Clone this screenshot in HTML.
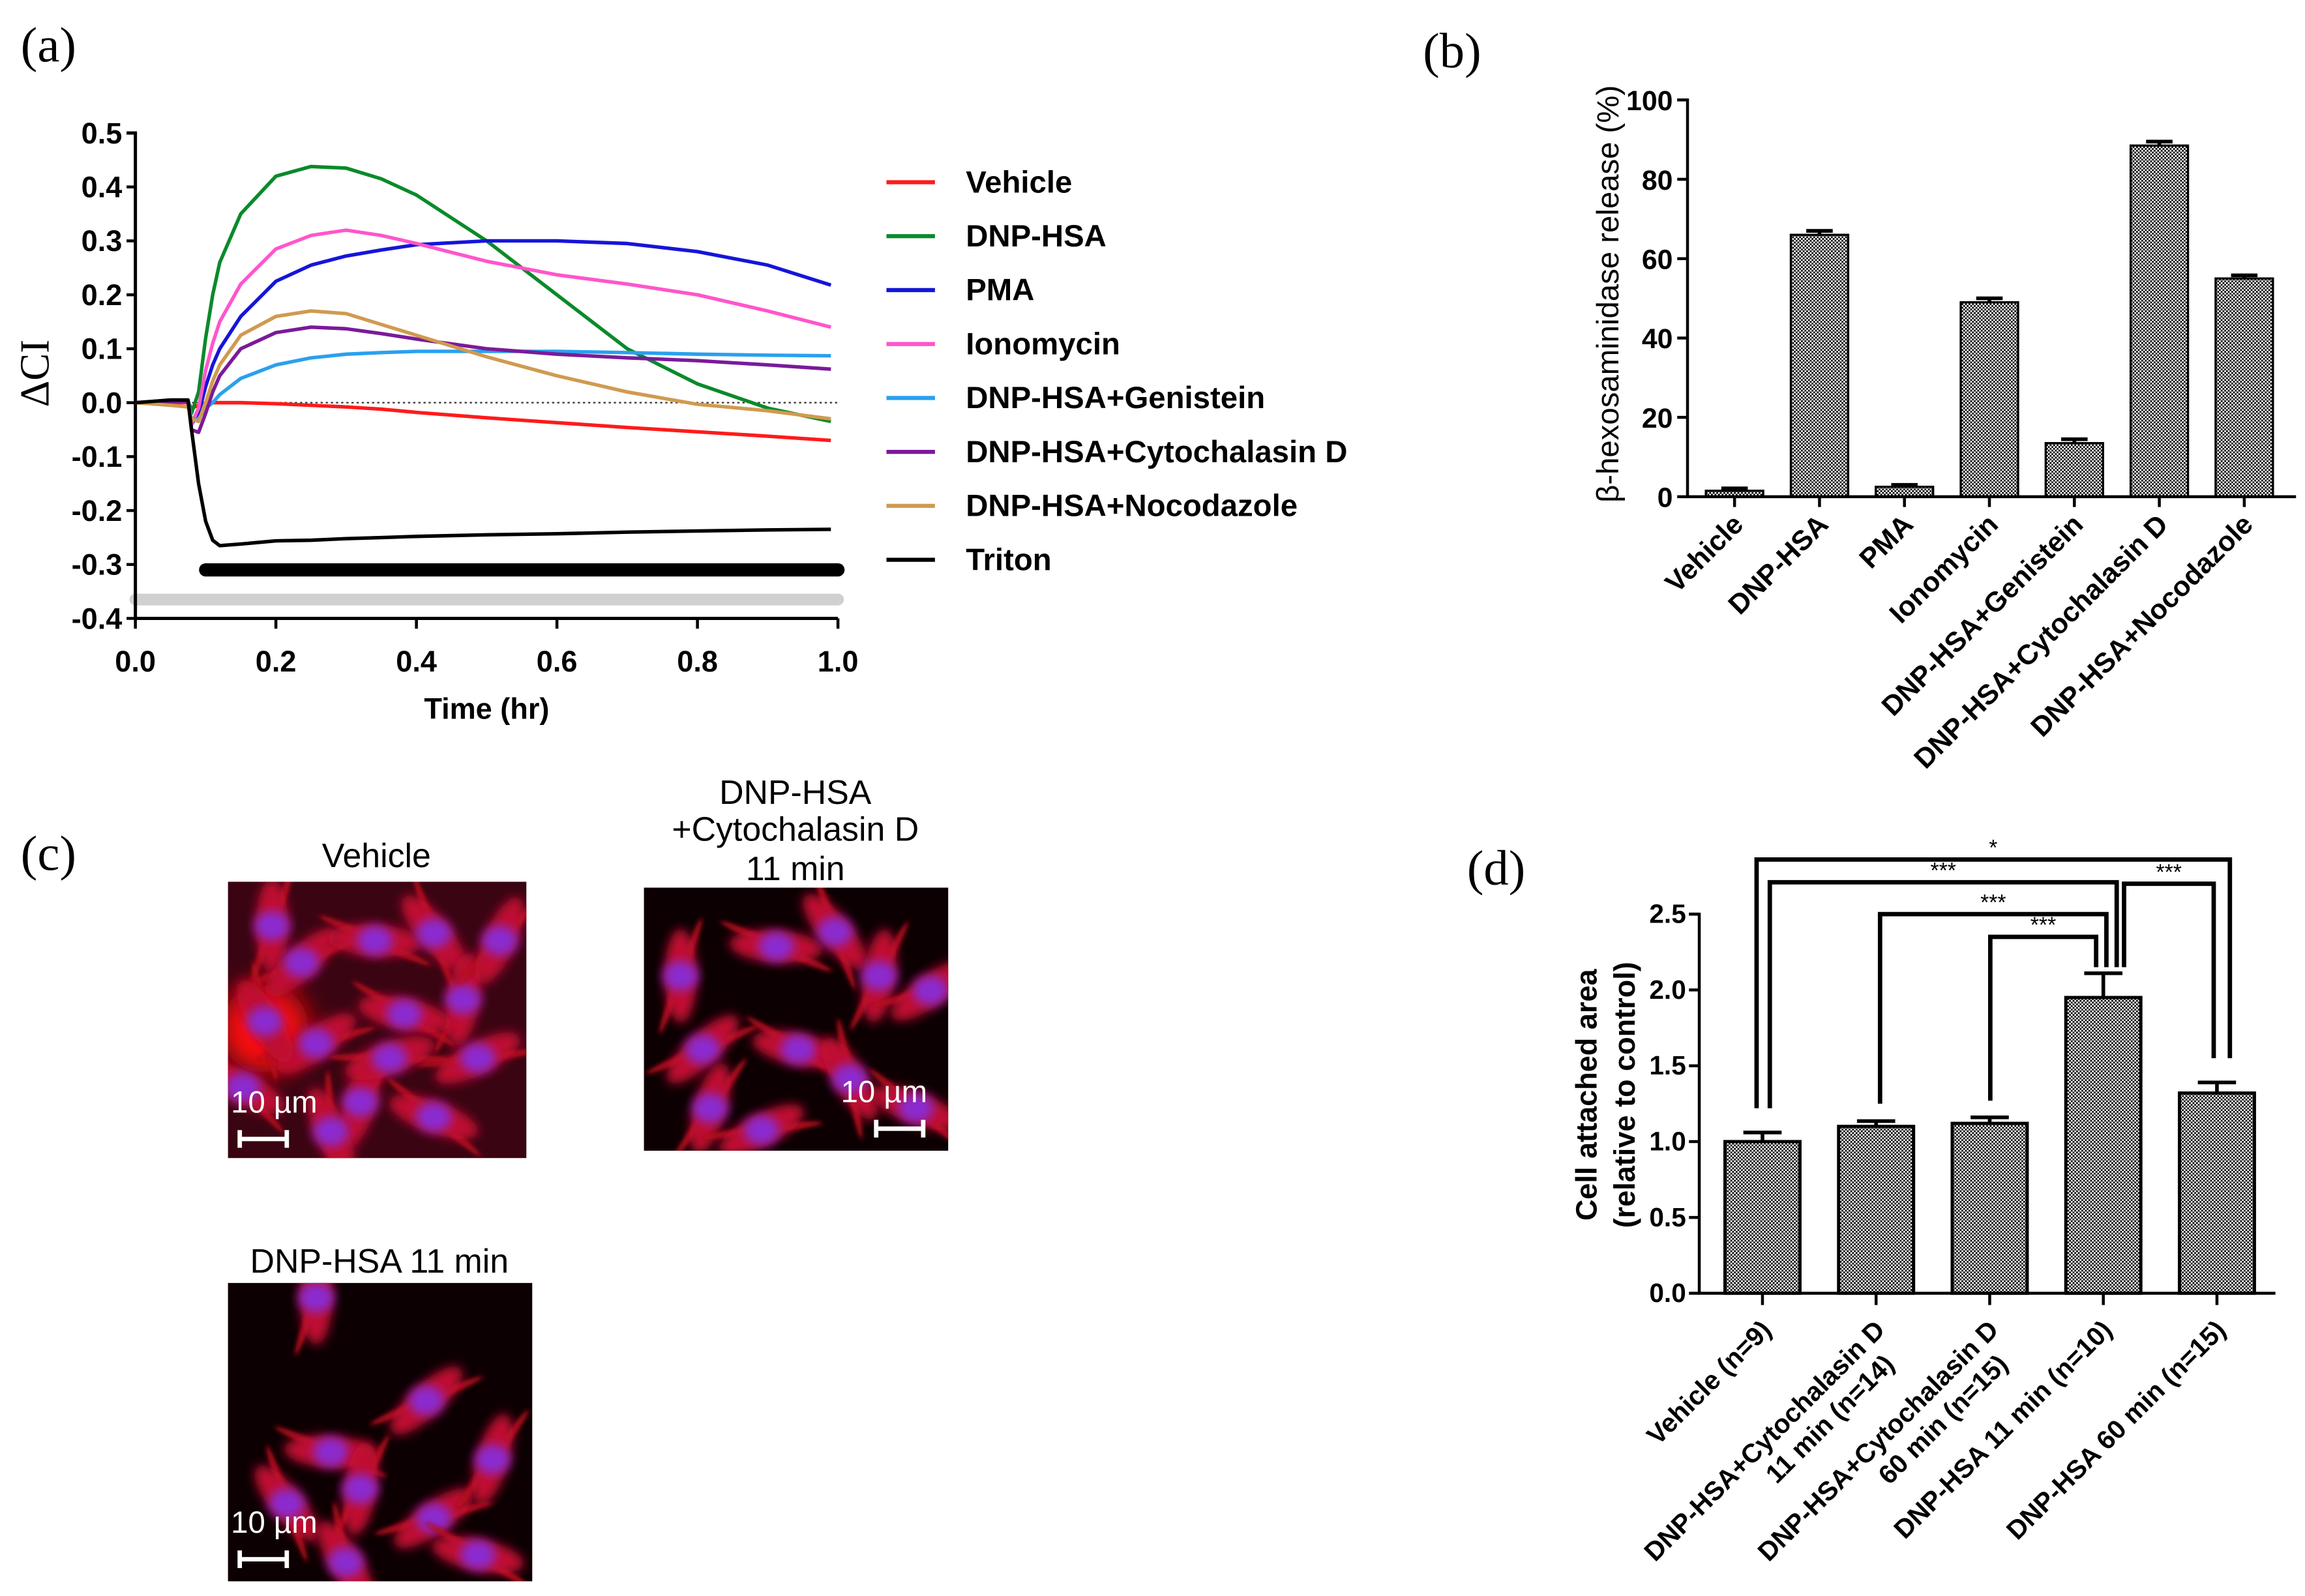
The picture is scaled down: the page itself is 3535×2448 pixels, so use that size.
<!DOCTYPE html>
<html><head><meta charset="utf-8"><style>
html,body{margin:0;padding:0;background:#fff;}
svg{display:block;}
text{font-family:"Liberation Sans",Arial,sans-serif;}
text.serif{font-family:"Liberation Serif","DejaVu Serif",serif;}
</style></head><body>
<svg id="fig" width="3535" height="2448" viewBox="0 0 1568 1086" xmlns="http://www.w3.org/2000/svg">
<defs>
<pattern id="chk" patternUnits="userSpaceOnUse" width="2.4" height="2.4">
<rect width="2.4" height="2.4" fill="#fff"/><rect width="1.2" height="1.2" fill="#000"/><rect x="1.2" y="1.2" width="1.2" height="1.2" fill="#000"/>
</pattern>
<filter id="blur2" x="-30%" y="-30%" width="160%" height="160%"><feGaussianBlur stdDeviation="3.5"/></filter>
<filter id="blur1" x="-30%" y="-30%" width="160%" height="160%"><feGaussianBlur stdDeviation="1.5"/></filter>
<filter id="blur6" x="-50%" y="-50%" width="200%" height="200%"><feGaussianBlur stdDeviation="9"/></filter>
</defs>
<g id="pa"></g>
<g id="pb"></g>
<g id="pc"></g>
<g id="pd"></g>
</svg>
<script>
// ---------- Panel (a) data ----------
const aTimes = [0,0.05,0.075,0.08,0.09,0.1,0.11,0.12,0.15,0.2,0.25,0.3,0.35,0.4,0.5,0.6,0.7,0.8,0.9,0.99];
const aVehicle = [0,0,0,-0.01,-0.005,0,0,0,0,-0.002,-0.005,-0.008,-0.012,-0.018,-0.028,-0.037,-0.046,-0.054,-0.062,-0.07];
const aDNP = [0,0.005,0.005,-0.02,0.02,0.12,0.2,0.26,0.35,0.42,0.438,0.435,0.415,0.385,0.3,0.2,0.1,0.035,-0.01,-0.035];
const aPMA = [0,0.003,0.005,-0.04,-0.02,0.03,0.07,0.1,0.16,0.225,0.255,0.272,0.283,0.293,0.3,0.3,0.295,0.28,0.255,0.218];
const aIono = [0,0.003,0.005,-0.04,-0.01,0.06,0.11,0.15,0.22,0.285,0.31,0.32,0.31,0.295,0.262,0.237,0.22,0.2,0.17,0.14];
const aGen = [0,0.002,0.003,-0.03,-0.03,-0.01,0,0.015,0.045,0.07,0.083,0.09,0.093,0.095,0.095,0.095,0.093,0.09,0.088,0.087];
const aCyto = [0,0.002,0.003,-0.05,-0.055,-0.02,0.02,0.05,0.1,0.13,0.14,0.137,0.128,0.118,0.1,0.09,0.083,0.078,0.07,0.062];
const aNoco = [0,-0.005,-0.008,-0.03,-0.035,0,0.04,0.07,0.125,0.16,0.17,0.165,0.145,0.125,0.085,0.05,0.02,-0.003,-0.015,-0.03];
const aTriton = [0,0.005,0.005,-0.05,-0.15,-0.22,-0.255,-0.265,-0.262,-0.256,-0.255,-0.252,-0.25,-0.248,-0.245,-0.243,-0.24,-0.238,-0.236,-0.235];
const aSeriesNames = ["Vehicle","DNP-HSA","PMA","Ionomycin","DNP-HSA+Genistein","DNP-HSA+Cytochalasin D","DNP-HSA+Nocodazole","Triton"];
const aYTicks = [0.5,0.4,0.3,0.2,0.1,0.0,-0.1,-0.2,-0.3,-0.4];
const aXTicks = [0,0.2,0.4,0.6,0.8,1.0];
// ---------- Panel (b) data ----------
const bCats = ["Vehicle","DNP-HSA","PMA","Ionomycin","DNP-HSA+Genistein","DNP-HSA+Cytochalasin D","DNP-HSA+Nocodazole"];
const bVals = [1.5,66,2.5,49,13.5,88.5,55];
const bErr = [0.6,1,0.5,1,1,1,0.8];
const bYTicks = [0,20,40,60,80,100];
// ---------- Panel (d) data ----------
const dCats = [["Vehicle (n=9)"],["DNP-HSA+Cytochalasin D","11 min   (n=14)"],["DNP-HSA+Cytochalasin D","60 min   (n=15)"],["DNP-HSA 11 min (n=10)"],["DNP-HSA 60 min (n=15)"]];
const dVals = [1.0,1.1,1.12,1.95,1.32];
const dErr = [0.06,0.035,0.04,0.16,0.07];
const dYTicks = [0,0.5,1.0,1.5,2.0,2.5];

const NS="http://www.w3.org/2000/svg";
function mk(parent,tag,attrs,txt){const e=document.createElementNS(NS,tag);for(const k in attrs)e.setAttribute(k,attrs[k]);if(txt!==undefined)e.textContent=txt;parent.appendChild(e);return e;}

// ===== Panel A =====
(function(){
const g=document.getElementById('pa');
const X0=92,X1=570,Y0=274,PER=36.7;
const sx=t=>X0+(X1-X0)*t, sy=v=>Y0-v*PER*10;
let e=mk(g,'text',{x:14,y:42,'font-size':34,'class':'serif'},'(a)');


e=mk(g,'line',{x1:sx(0.0),x2:sx(1.0),y1:sy(-0.365),y2:sy(-0.365),stroke:'#d0d0d0','stroke-width':8,'stroke-linecap':'round'});


e=mk(g,'line',{x1:sx(0.1),x2:sx(1.0),y1:sy(-0.31),y2:sy(-0.31),stroke:'#000','stroke-width':9,'stroke-linecap':'round'});


e=mk(g,'line',{x1:sx(0),x2:sx(1),y1:sy(0),y2:sy(0),stroke:'#333','stroke-width':1,'stroke-dasharray':'1.5,2'});


e=mk(g,'path',{d:`M${X0-6},${sy(0.5)}H${X0}V${sy(-0.4)}H${X1}`,fill:'none',stroke:'#000','stroke-width':2.2});


aYTicks.forEach(v=>{
 mk(g,'line',{x1:X0-6,x2:X0,y1:sy(v),y2:sy(v),stroke:'#000','stroke-width':2});
 e=mk(g,'text',{x:X0-9,y:sy(v)+7,'text-anchor':'end','font-size':20,'font-weight':'bold'},v.toFixed(1));
 
 
});
aXTicks.forEach(v=>{
 mk(g,'line',{x1:sx(v),x2:sx(v),y1:sy(-0.4),y2:sy(-0.4)+7,stroke:'#000','stroke-width':2});
 e=mk(g,'text',{x:sx(v),y:457,'text-anchor':'middle','font-size':20,'font-weight':'bold'},v.toFixed(1));
 
 
});
e=mk(g,'text',{x:331,y:489,'text-anchor':'middle','font-size':20,'font-weight':'bold'},'Time (hr)');


e=mk(g,'text',{x:0,y:0,transform:'translate(33,254) rotate(-90)','text-anchor':'middle','font-size':28,'class':'serif'},'ΔCI');


const series=[aVehicle,aDNP,aPMA,aIono,aGen,aCyto,aNoco,aTriton];
const cols=['#ff1a1a','#0a8a2a','#1515d8','#ff55cc','#2aa0ee','#7a1a9a','#d09a50','#000'];
series.forEach((s,i)=>{
 const pts=s.map((v,j)=>sx(aTimes[j]).toFixed(1)+','+sy(v).toFixed(1)).join(' ');
 const p=mk(g,'polyline',{points:pts,fill:'none',stroke:cols[i],'stroke-width':2.4,'stroke-linejoin':'round'});
 
 
 const ly=124+i*36.7;
 const l=mk(g,'line',{x1:603,x2:636,y1:ly,y2:ly,stroke:cols[i],'stroke-width':2.8});
 
 
 const t=mk(g,'text',{x:657,y:ly+7,'font-size':21,'font-weight':'bold'},aSeriesNames[i]);
 
 
});
})();

// ===== Panel B =====
(function(){
const g=document.getElementById('pb');
const X0=1148,X1=1562,Y0=338,Y100=68,C0=1180,SP=57.8,W=39;
const sy=v=>Y0-(Y0-Y100)*v/100;
let e=mk(g,'text',{x:968,y:46,'font-size':34,'class':'serif'},'(b)');


bCats.forEach((c,i)=>{
 const cx=C0+SP*i;
 const r=mk(g,'rect',{x:cx-W/2,y:sy(bVals[i]),width:W,height:Y0-sy(bVals[i]),fill:'url(#chk)',stroke:'#000','stroke-width':1.5});
 
 
 const top=sy(bVals[i]+bErr[i]);
 e=mk(g,'path',{d:`M${cx},${sy(bVals[i])}V${top}M${cx-9},${top}H${cx+9}`,stroke:'#000','stroke-width':2.5,fill:'none'});
 
 
 mk(g,'line',{x1:cx,x2:cx,y1:Y0,y2:Y0+7,stroke:'#000','stroke-width':2});
 e=mk(g,'text',{x:0,y:0,transform:`translate(${cx+7},${Y0+20}) rotate(-45)`,'text-anchor':'end','font-size':19,'font-weight':'bold'},c);
 
 
});
e=mk(g,'path',{d:`M${X0-7},${Y100}H${X0}V${Y0}H${X1}`,fill:'none',stroke:'#000','stroke-width':2});


bYTicks.forEach(v=>{
 mk(g,'line',{x1:X0-7,x2:X0,y1:sy(v),y2:sy(v),stroke:'#000','stroke-width':2});
 e=mk(g,'text',{x:X0-10,y:sy(v)+7,'text-anchor':'end','font-size':19,'font-weight':'bold'},String(v));
 
 
});
e=mk(g,'text',{x:0,y:0,transform:'translate(1101,200) rotate(-90)','text-anchor':'middle','font-size':21},'β-hexosaminidase release (%)');


})();

// ===== Panel C =====
(function(){
const g=document.getElementById('pc');
let e=mk(g,'text',{x:14,y:592,'font-size':34,'class':'serif'},'(c)');


const imgs=[
 {x:155,y:600,w:203,h:188,name:'vehicle-image',title:['Vehicle'],ty:[590],tx:256,scaleTxt:[157,757],bar:[163,775],bg:'#3a0412',
  cells:[[30,30],[50,55],[100,40],[140,35],[160,80],[60,110],[120,90],[25,95],[90,150],[170,120],[140,160],[70,170],[185,40],[110,120],[10,140]],glow:[[25,100]]},
 {x:438,y:604,w:207,h:179,name:'cytochalasin-image',title:['DNP-HSA','+Cytochalasin D','11 min'],ty:[547,572,599],tx:541,scaleTxt:[572,750],bar:[596,768],bg:'#0c0002',
  cells:[[25,60],[40,110],[90,40],[130,30],[160,60],[195,70],[105,110],[140,130],[45,150],[80,165],[185,150]],glow:[]},
 {x:155,y:873,w:207,h:203,name:'dnp-hsa-image',title:['DNP-HSA 11 min'],ty:[866],tx:258,scaleTxt:[157,1043],bar:[163,1061],bg:'#0c0002',
  cells:[[60,10],[135,80],[70,115],[40,150],[90,140],[140,160],[170,185],[80,190],[180,120]],glow:[]}
];
imgs.forEach(im=>{
 const gg=mk(g,'g',{});
 
 
 const cid='clip-'+im.name;
 const cp=mk(gg,'clipPath',{id:cid});mk(cp,'rect',{x:im.x,y:im.y,width:im.w,height:im.h});
 mk(gg,'rect',{x:im.x,y:im.y,width:im.w,height:im.h,fill:im.bg});
 const inner=mk(gg,'g',{'clip-path':`url(#${cid})`});
 im.glow.forEach(c=>mk(inner,'circle',{cx:im.x+c[0],cy:im.y+c[1],r:30,fill:'#ff1010',filter:'url(#blur6)'}));
 im.cells.forEach((c,k)=>{
  const ang=(k*47)%180-90;
  const cx=im.x+c[0],cy=im.y+c[1];
  mk(inner,'ellipse',{cx:cx,cy:cy,rx:42,ry:3,fill:'#b0101e',transform:`rotate(${ang+20} ${cx} ${cy})`,filter:'url(#blur1)'});
  mk(inner,'ellipse',{cx:cx,cy:cy,rx:32,ry:11,fill:'#c01030',transform:`rotate(${ang} ${cx} ${cy})`,filter:'url(#blur2)'});
  mk(inner,'ellipse',{cx:cx,cy:cy,rx:12,ry:10,fill:'#8a2ad0',filter:'url(#blur2)'});
 });
 im.title.forEach((t,k)=>{
  const tt=mk(g,'text',{x:im.tx,y:im.ty[k],'text-anchor':'middle','font-size':23},t);
  
  
 });
 const st=mk(gg,'text',{x:im.scaleTxt[0],y:im.scaleTxt[1],'font-size':21,fill:'#fff'},'10 µm');
 
 
 const b=im.bar;
 const sb=mk(gg,'path',{d:`M${b[0]},${b[1]-6}V${b[1]+6}M${b[0]},${b[1]}H${b[0]+32}M${b[0]+32},${b[1]-6}V${b[1]+6}`,stroke:'#fff','stroke-width':3,fill:'none'});
 
 
});
})();

// ===== Panel D =====
(function(){
const g=document.getElementById('pd');
const X0=1156,X1=1548,Y0=880,PERU=103.2,C0=1199,SP=77.3,W=51;
const sy=v=>Y0-v*PERU;
const sx=i=>C0+SP*i;
let e=mk(g,'text',{x:998,y:602,'font-size':34,'class':'serif'},'(d)');


dCats.forEach((c,i)=>{
 const cx=sx(i);
 const r=mk(g,'rect',{x:cx-W/2,y:sy(dVals[i]),width:W,height:Y0-sy(dVals[i]),fill:'url(#chk)',stroke:'#000','stroke-width':2.2});
 
 
 const top=sy(dVals[i]+dErr[i]);
 e=mk(g,'path',{d:`M${cx},${sy(dVals[i])}V${top}M${cx-13},${top}H${cx+13}`,stroke:'#000','stroke-width':2.5,fill:'none'});
 
 
 mk(g,'line',{x1:cx,x2:cx,y1:Y0,y2:Y0+8,stroke:'#000','stroke-width':2});
 c.forEach((ln,k)=>{
  const t=mk(g,'text',{x:k?-12:0,y:k*21,transform:`translate(${cx+7},${Y0+26}) rotate(-45)`,'text-anchor':'end','font-size':18,'font-weight':'bold'},ln);
  
  
 });
});
e=mk(g,'path',{d:`M${X0-7},${sy(2.5)}H${X0}V${Y0}H${X1}`,fill:'none',stroke:'#000','stroke-width':2});


dYTicks.forEach(v=>{
 mk(g,'line',{x1:X0-7,x2:X0,y1:sy(v),y2:sy(v),stroke:'#000','stroke-width':2});
 e=mk(g,'text',{x:X0-9,y:sy(v)+6,'text-anchor':'end','font-size':18,'font-weight':'bold'},v.toFixed(1));
 
 
});
e=mk(g,'text',{x:0,y:0,transform:'translate(1086,745) rotate(-90)','text-anchor':'middle','font-size':20,'font-weight':'bold'},'Cell attached area');


e=mk(g,'text',{x:0,y:0,transform:'translate(1112,745) rotate(-90)','text-anchor':'middle','font-size':20,'font-weight':'bold'},'(relative to control)');


const br=[[1195,1517,2.86,1.22,1.55,'*'],[1204,1440,2.71,1.22,2.15,'***'],[1445,1506,2.70,2.15,1.55,'***'],[1279,1433,2.5,1.25,2.15,'***'],[1354,1426,2.35,1.27,2.15,'***']];
br.forEach(b=>{
 const p=mk(g,'path',{d:`M${b[0]},${sy(b[3])}V${sy(b[2])}H${b[1]}V${sy(b[4])}`,fill:'none',stroke:'#000','stroke-width':3});
 
 
 const t=mk(g,'text',{x:(b[0]+b[1])/2,y:sy(b[2])-3,'text-anchor':'middle','font-size':15},b[5]);
 
 
});
})();
</script>
</body></html>
